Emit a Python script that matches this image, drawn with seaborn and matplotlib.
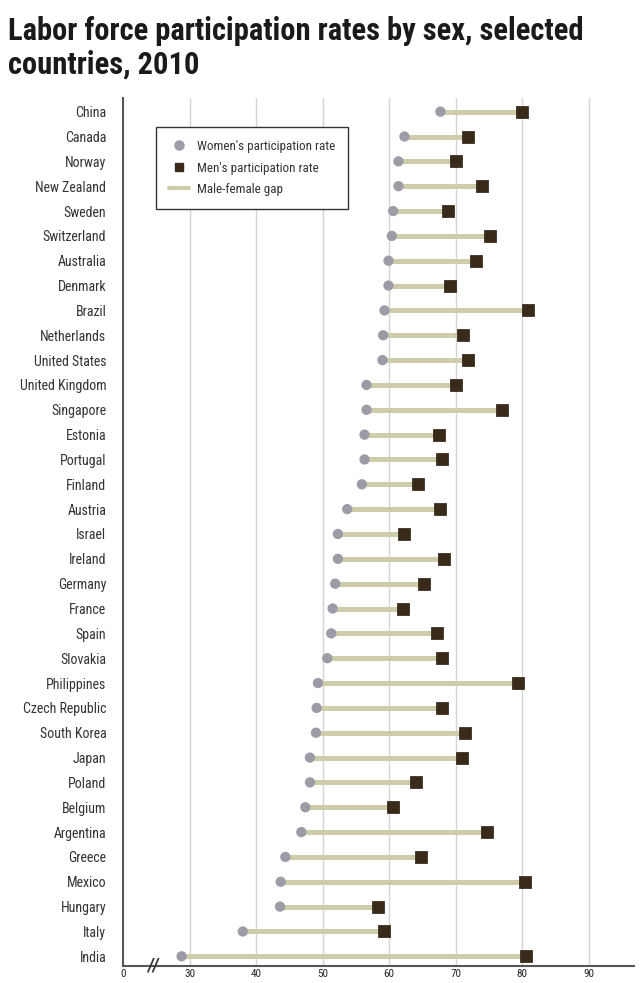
import matplotlib
matplotlib.use("Agg")
import matplotlib.pyplot as plt
from matplotlib import font_manager
from matplotlib.lines import Line2D
import numpy as np
import pandas as pd
import seaborn as sns

countries = ["China", "Canada", "Norway", "New Zealand", "Sweden", "Switzerland",
             "Australia", "Denmark", "Brazil", "Netherlands", "United States",
             "United Kingdom", "Singapore", "Estonia", "Portugal", "Finland",
             "Austria", "Israel", "Ireland", "Germany", "France", "Spain",
             "Slovakia", "Philippines", "Czech Republic", "South Korea", "Japan",
             "Poland", "Belgium", "Argentina", "Greece", "Mexico", "Hungary",
             "Italy", "India"]
women = [67.7, 62.3, 61.4, 61.4, 60.6, 60.4, 59.9, 59.9, 59.3, 59.1, 59.0,
         56.6, 56.6, 56.3, 56.3, 55.9, 53.7, 52.3, 52.3, 51.9, 51.5, 51.3,
         50.7, 49.3, 49.1, 49.0, 48.1, 48.1, 47.4, 46.8, 44.4, 43.7, 43.6,
         38.0, 28.8]
men = [80.0, 71.8, 70.1, 74.0, 68.9, 75.2, 73.1, 69.2, 80.9, 71.1, 71.8,
       70.1, 76.9, 67.5, 67.9, 64.4, 67.7, 62.2, 68.2, 65.2, 62.1, 67.2,
       67.9, 79.3, 68.0, 71.4, 70.9, 64.1, 60.6, 74.7, 64.8, 80.4, 58.3,
       59.3, 80.6]
# axis is broken: position 20 is labelled "0"
x_ticks = [20, 30, 40, 50, 60, 70, 80, 90]
x_tick_labels = ["0", "30", "40", "50", "60", "70", "80", "90"]

C_WOMEN = "#9c9ba6"
C_MEN = "#3a2a1a"
C_GAP = "#cfcca9"

# pick a narrow face if one is installed
installed = {f.name for f in font_manager.fontManager.ttflist}
NARROW_NAME = "Liberation Sans"
for name in ["Roboto Condensed", "Liberation Sans Narrow", "Open Sans Condensed",
             "DejaVu Sans Condensed", "Liberation Sans"]:
    if name in installed:
        NARROW_NAME = name
        break
is_narrow = NARROW_NAME != "Liberation Sans"

sns.set_style("white")
plt.rcParams["font.family"] = [NARROW_NAME, "DejaVu Sans"]

df = pd.DataFrame({"country": countries, "women": women, "men": men})

fig = plt.figure(figsize=(6.4, 9.83), dpi=100)
ax = fig.add_axes([123 / 640, 1 - 966 / 983, 511 / 640, (966 - 98) / 983])

for x in x_ticks[1:]:
    ax.axvline(x, color="#d4d4d4", lw=1, zorder=0)

ax.hlines(df["country"], df["women"], df["men"], color=C_GAP, lw=3.6, zorder=1)
sns.scatterplot(data=df, x="women", y="country", ax=ax, s=55, color=C_WOMEN,
                edgecolor="none", zorder=2, legend=False)
sns.scatterplot(data=df, x="men", y="country", ax=ax, s=80, marker="s",
                color=C_MEN, edgecolor="#2a1c10", linewidth=0.5, zorder=3,
                legend=False)

ax.set_xlim(20, 96.8)
ax.set_ylim(len(countries) - 1 + 0.39, -0.55)
ax.set_xticks(x_ticks)
ax.set_xticklabels(x_tick_labels, fontsize=8)
ax.set_xlabel("")
ax.set_ylabel("")
ax.tick_params(axis="y", length=0, pad=12, labelsize=10 if is_narrow else 8.8,
               labelcolor="#333333")
ax.tick_params(axis="x", length=0, pad=2.5)
for side in ["top", "right"]:
    ax.spines[side].set_visible(False)
for side in ["left", "bottom"]:
    ax.spines[side].set_color("#555555")
    ax.spines[side].set_linewidth(1.5)

# axis break mark
ax.text(24.5, 0, "//", transform=ax.get_xaxis_transform(), ha="center",
        va="center", fontsize=13, fontweight="bold", fontstyle="italic",
        color="#333333", zorder=5)

handles = [
    Line2D([], [], marker="o", ls="none", color=C_WOMEN, markersize=6.5),
    Line2D([], [], marker="s", ls="none", color=C_MEN, markersize=6),
    Line2D([], [], color=C_GAP, lw=3),
]
leg = ax.legend(handles, ["Women's participation rate", "Men's participation rate",
                          "Male-female gap"],
                loc="upper left", bbox_to_anchor=(33 / 511, (966 - 127) / 868),
                fontsize=9.4 if is_narrow else 8, frameon=True, fancybox=False,
                framealpha=1, edgecolor="#333333", borderpad=1.0, labelspacing=0.65,
                handlelength=1.55, handletextpad=0.6, borderaxespad=0)
leg.get_frame().set_linewidth(1)
for t in leg.get_texts():
    t.set_color("#333333")

fig.text(8 / 640, 1 - 16 / 983,
         "Labor force participation rates by sex, selected\ncountries, 2010",
         ha="left", va="top", fontsize=22 if is_narrow else 15.5,
         fontweight="bold", color="#1a1a1a", linespacing=1.15)

fig.savefig("out.png", dpi=100, facecolor="white")
